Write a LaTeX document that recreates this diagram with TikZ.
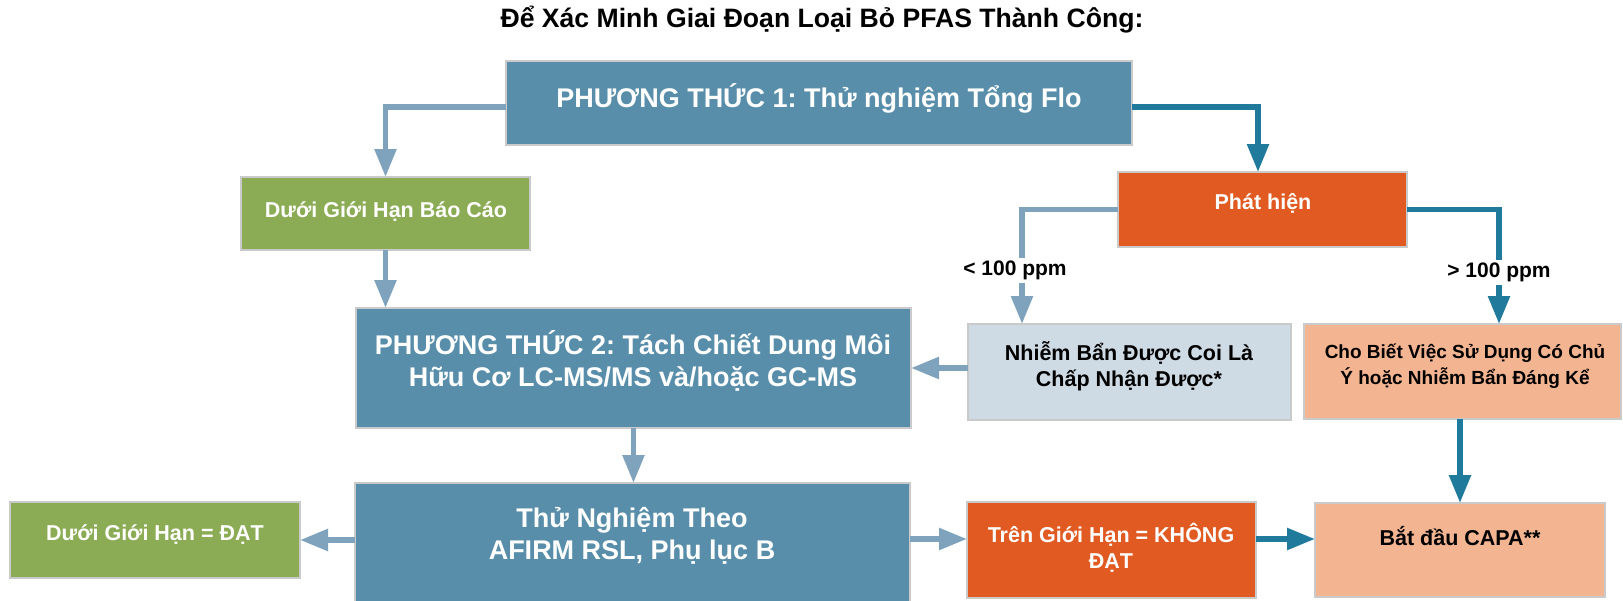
\documentclass[tikz,border=0pt]{standalone}
\usepackage{fontspec}
\setmainfont{Liberation Sans}
\usetikzlibrary{arrows.meta}
\frenchspacing
\definecolor{steel}{HTML}{588EAA}
\definecolor{grn}{HTML}{8BAC55}
\definecolor{org}{HTML}{E05A21}
\definecolor{lblue}{HTML}{CFDBE4}
\definecolor{peach}{HTML}{F3B591}
\definecolor{larr}{HTML}{7FA3BC}
\definecolor{darr}{HTML}{1F7A9C}
\definecolor{bord}{HTML}{CACACA}
\tikzset{
  box/.style={draw=bord, line width=1.5pt, inner sep=0pt, outer sep=0pt},
  big/.style={text=white, font=\bfseries\fontsize{27}{32}\selectfont, align=center, inner sep=0pt},
  small/.style={font=\bfseries\fontsize{21.5}{26}\selectfont, align=center, inner sep=0pt},
  arr/.style={line width=5.5pt, -{Triangle[length=28pt,width=21pt]}},
  lightarr/.style={arr, draw=larr},
  darkarr/.style={arr, draw=darr},
  lbl/.style={font=\bfseries\fontsize{21}{25}\selectfont, fill=white, inner sep=3pt}
}
\begin{document}
\begin{tikzpicture}[x=1pt,y=-1pt]
\useasboundingbox (0,0) rectangle (1623,600);
% title
\node[font=\bfseries\fontsize{26.6}{30}\selectfont, inner sep=0pt] (title) at (822,20) {Để Xác Minh Giai Đoạn Loại Bỏ PFAS Thành Công:};
% boxes
\node[box, fill=steel, minimum width=626pt, minimum height=84pt] (m1) at (819,103) {};
\node[box, fill=grn, minimum width=289pt, minimum height=73pt] (g1) at (385.5,213.5) {};
\node[box, fill=org, minimum width=289pt, minimum height=75pt] (ph) at (1262.5,209.5) {};
\node[box, fill=steel, minimum width=555pt, minimum height=120pt] (m2) at (633.5,368) {};
\node[box, fill=lblue, minimum width=323pt, minimum height=96pt] (lb) at (1129.5,372) {};
\node[box, fill=peach, minimum width=317pt, minimum height=95pt] (pc1) at (1462.5,371.5) {};
\node[box, fill=steel, minimum width=555pt, minimum height=137pt] (test) at (632.5,551.5) {};
\node[box, fill=grn, minimum width=290pt, minimum height=76pt] (g2) at (155,540) {};
\node[box, fill=org, minimum width=289pt, minimum height=96pt] (o2) at (1111.5,550) {};
\node[box, fill=peach, minimum width=290pt, minimum height=94pt] (pc2) at (1460,550) {};
% texts
\node[big] (t1) at (819,98) {PHƯƠNG THỨC 1: Thử nghiệm Tổng Flo};
\node[small, text=white] (t2) at (386,212) {Dưới Giới Hạn Báo Cáo};
\node[small, text=white] (t3) at (1263,203) {Phát hiện};
\node[big] (t4) at (633,361) {PHƯƠNG THỨC 2: Tách Chiết Dung Môi\\Hữu Cơ LC-MS/MS và/hoặc GC-MS};
\node[small] (t5) at (1129,366.5) {Nhiễm Bẩn Được Coi Là\\Chấp Nhận Được*};
\node[small, font=\bfseries\fontsize{19}{26}\selectfont] (t6) at (1465,366) {Cho Biết Việc Sử Dụng Có Chủ\\Ý hoặc Nhiễm Bẩn Đáng Kể};
\node[big] (t7) at (632,536) {Thử Nghiệm Theo\\AFIRM RSL, Phụ lục B};
\node[small, text=white] (t8) at (155,535) {Dưới Giới Hạn = ĐẠT};
\node[small, text=white] (t9) at (1111,548) {Trên Giới Hạn = KHÔNG\\ĐẠT};
\node[small] (t10) at (1460,536) {Bắt đầu CAPA**};
% anchor coordinates
\coordinate (m1w) at ([yshift=-4pt]m1.west);
\coordinate (m1e) at ([yshift=-4pt]m1.east);
\coordinate (phn) at ([xshift=-4.5pt]ph.north);
\coordinate (lbn) at ([xshift=54pt]lb.north west);
\coordinate (pc1n) at ([xshift=36.5pt]pc1.north);
\coordinate (lbw) at ([yshift=4pt]lb.west);
\coordinate (o2w) at ([yshift=11pt]o2.west);
\coordinate (o2e) at ([yshift=11pt]o2.east);
% connectors
\draw[lightarr] (m1w) -| (g1.north);
\draw[darkarr] (m1e) -| (phn);
\draw[lightarr] (ph.west) -| node[lbl, pos=0.75, xshift=-7pt, yshift=-4pt] (lt) {< 100 ppm} (lbn);
\draw[darkarr] (ph.east) -| node[lbl, pos=0.75, yshift=-6pt] (gt) {> 100 ppm} (pc1n);
\draw[lightarr] (g1.south) -- (g1.south |- m2.north);
\draw[lightarr] (lbw) -- (m2.east |- lbw);
\draw[lightarr] (m2.south) -- (m2.south |- test.north);
\draw[lightarr] (test.west |- g2.east) -- (g2.east);
\draw[lightarr] (test.east |- o2w) -- (o2w);
\draw[darkarr] (o2e) -- (pc2.west |- o2e);
\draw[darkarr] (pc2.north |- pc1.south) -- (pc2.north);
\end{tikzpicture}
\end{document}
